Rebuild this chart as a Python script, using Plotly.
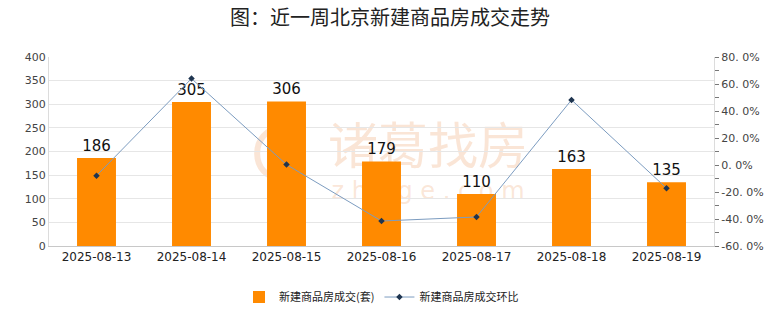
import plotly.graph_objects as go

dates = ["2025-08-13", "2025-08-14", "2025-08-15", "2025-08-16", "2025-08-17", "2025-08-18", "2025-08-19"]
volume = [186, 305, 306, 179, 110, 163, 135]
ratio = [-7.9, 64.0, 0.3, -41.5, -38.5, 48.2, -17.2]
left_ticks = [0, 50, 100, 150, 200, 250, 300, 350, 400]
right_tickvals = [-60, -40, -20, 0, 20, 40, 60, 80]
right_ticktext = ["-60. 0%", "-40. 0%", "-20. 0%", "0. 0%", "20. 0%", "40. 0%", "60. 0%", "80. 0%"]

FONT = "Noto Sans CJK SC"
WM = "rgba(240,170,120,0.30)"

fig = go.Figure()
fig.add_trace(go.Bar(
    x=dates, y=volume, name="新建商品房成交(套)",
    marker=dict(color="#FF8A00", line=dict(width=0)),
    text=[str(v) for v in volume], textposition="outside",
    textfont=dict(size=15, color="#111", family="DejaVu Sans"),
    cliponaxis=False,
))
fig.add_trace(go.Scatter(
    x=dates, y=ratio, name="新建商品房成交环比", yaxis="y2",
    mode="lines+markers",
    line=dict(color="#7C9CC0", width=1),
    marker=dict(symbol="diamond", size=5, color="#1F3550"),
))

# watermark drawn below the data
fig.add_shape(type="rect", xref="paper", yref="paper", x0=0.43, x1=0.71, y0=0.40, y1=0.62,
              line=dict(width=0), fillcolor="rgba(0,0,0,0)", layer="below",
              label=dict(text="诸葛找房", textposition="middle center",
                         font=dict(size=50, color=WM, family=FONT)))
fig.add_shape(type="rect", xref="paper", yref="paper", x0=0.43, x1=0.71, y0=0.22, y1=0.38,
              line=dict(width=0), fillcolor="rgba(0,0,0,0)", layer="below",
              label=dict(text="z h u g e . c o m", textposition="middle center",
                         font=dict(size=24, color=WM, family="DejaVu Sans")))
fig.add_shape(type="circle", xref="paper", yref="paper", x0=0.313, x1=0.378, y0=0.36, y1=0.62,
              line=dict(width=6, color=WM), fillcolor="rgba(0,0,0,0)", layer="below")

fig.update_layout(
    width=780, height=328,
    margin=dict(l=49, r=66, t=57, b=82),
    paper_bgcolor="white", plot_bgcolor="white",
    title=dict(text="图：近一周北京新建商品房成交走势", x=0.5, xanchor="center", y=0.945, yanchor="middle",
               font=dict(size=20, color="#222", family=FONT)),
    bargap=0.59,
    showlegend=True,
    legend=dict(orientation="h", x=0.5, xanchor="center", y=-0.27, yanchor="middle",
                font=dict(size=11, color="#222", family=FONT)),
    xaxis=dict(type="category", showgrid=False, showline=True, linecolor="#c8c8c8", linewidth=1,
               tickfont=dict(size=12, color="#222", family="DejaVu Sans"), ticks=""),
    yaxis=dict(range=[0, 400], tickvals=left_ticks, showgrid=True, gridcolor="#e6e6e6",
               showline=True, linecolor="#dcdcdc", zeroline=False,
               tickfont=dict(size=11, color="#444", family="DejaVu Sans")),
    yaxis2=dict(range=[-60, 80], overlaying="y", side="right", tickvals=right_tickvals,
                ticktext=right_ticktext, showgrid=False, zeroline=False,
                showline=True, linecolor="#dcdcdc", ticks="outside", ticklen=4, tickcolor="#777",
                minor=dict(ticks="outside", ticklen=4, tickcolor="#777", dtick=10, showgrid=False),
                tickfont=dict(size=11, color="#444", family="DejaVu Sans")),
    font=dict(family=FONT),
)

fig.write_html("out.html")
